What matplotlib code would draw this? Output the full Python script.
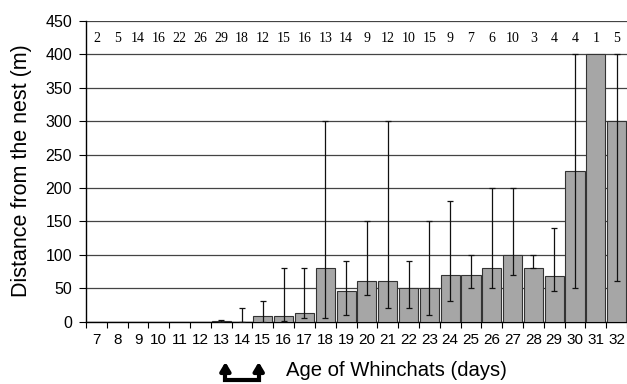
import numpy as np
import matplotlib
matplotlib.use('Agg')
import matplotlib.pyplot as plt
import matplotlib.transforms as mtransforms

# age of whinchats (days)
days = list(range(7, 33))
# median distance from the nest (m)
dist = [0, 0, 0, 0, 0, 0, 1, 0, 8, 8, 13, 80, 45, 60, 60, 50, 50, 70, 70, 80, 100, 80, 68, 225, 400, 300]
# lower / upper ends of the range bars (nan = no bar)
err_lo = [np.nan, np.nan, np.nan, np.nan, np.nan, np.nan, 0, 0, 0, 1, 5, 5, 10, 40, 20, 20, 10, 30, 50, 50, 70, 80, 45, 50, np.nan, 60]
err_hi = [np.nan, np.nan, np.nan, np.nan, np.nan, np.nan, 2, 20, 30, 80, 80, 300, 90, 150, 300, 90, 150, 180, 100, 200, 200, 100, 140, 400, np.nan, 400]
# sample sizes above the bars
n_obs = [2, 5, 14, 16, 22, 26, 29, 18, 12, 15, 16, 13, 14, 9, 12, 10, 15, 9, 7, 6, 10, 3, 4, 4, 1, 5]

sans = ['Liberation Sans', 'DejaVu Sans']
serif = ['Liberation Serif', 'DejaVu Serif']

fig = plt.figure(figsize = (6.27, 3.84), dpi = 100)
ax = fig.add_axes([86 / 627, 1 - 321.5 / 384, (627 - 86) / 627, (321.5 - 21) / 384])

ax.bar(days, dist, width = 0.92, color = '#a6a6a6', edgecolor = '#333333', linewidth = 0.8, zorder = 3)

lo = np.array(err_lo)
hi = np.array(err_hi)
mid = (lo + hi) / 2.0
ok = ~np.isnan(mid)
ax.errorbar(np.array(days)[ok], mid[ok], yerr = (hi[ok] - lo[ok]) / 2.0, fmt = 'none',
    ecolor = '#111111', elinewidth = 0.9, capsize = 2.3, capthick = 0.9, zorder = 4)

ax.set_xlim(6.5, 32.5)
ax.set_ylim(0, 450)
ax.set_yticks(np.arange(0, 451, 50))
ax.set_xticks(days)
ax.set_xticks(np.arange(6.5, 33, 1.0), minor = True)
ax.tick_params(axis = 'x', which = 'major', length = 0, pad = 8, labelsize = 11)
ax.tick_params(axis = 'x', which = 'minor', length = 4, width = 0.8, direction = 'out')
ax.tick_params(axis = 'y', length = 5, width = 0.8, direction = 'out', pad = 5, labelsize = 11.5)
for lab in ax.get_xticklabels() + ax.get_yticklabels():
    lab.set_family(sans)

ax.yaxis.grid(True, color = '#444444', linewidth = 0.9, zorder = 0)
ax.set_axisbelow(True)
for s in ['top', 'right']:
    ax.spines[s].set_visible(False)
ax.spines['left'].set_linewidth(1.0)
ax.spines['bottom'].set_linewidth(1.0)

# n per age class
for d, n in zip(days, n_obs):
    ax.text(d, 424, str(n), ha = 'center', va = 'center', fontsize = 10, family = serif)

fig.text(22 / 627, 1 - 171 / 384, 'Distance from the nest (m)', rotation = 90,
    ha = 'center', va = 'center', fontsize = 15.5, family = sans)
fig.text(396 / 627, 1 - 370 / 384, 'Age of Whinchats (days)', ha = 'center', va = 'center',
    fontsize = 14.6, family = sans)

# bracket with two arrows under days 13-15
trans = mtransforms.blended_transform_factory(ax.transData, fig.transFigure)
xa, xb = 13.2, 14.8
ybot, ytop = 1 - 380 / 384, 1 - 362 / 384
ax.plot([xa, xa, xb, xb], [ytop - 0.02, ybot, ybot, ytop - 0.02], color = 'black',
    linewidth = 3, transform = trans, clip_on = False, solid_joinstyle = 'miter')
for xx in [xa, xb]:
    ax.annotate('', xy = (xx, ytop), xycoords = trans, xytext = (xx, ytop - 0.025), textcoords = trans,
        arrowprops = dict(arrowstyle = '-|>,head_length=0.5,head_width=0.3', color = 'black', linewidth = 3,
            shrinkA = 0, shrinkB = 0), annotation_clip = False)

plt.savefig('out.png', dpi = 100)
